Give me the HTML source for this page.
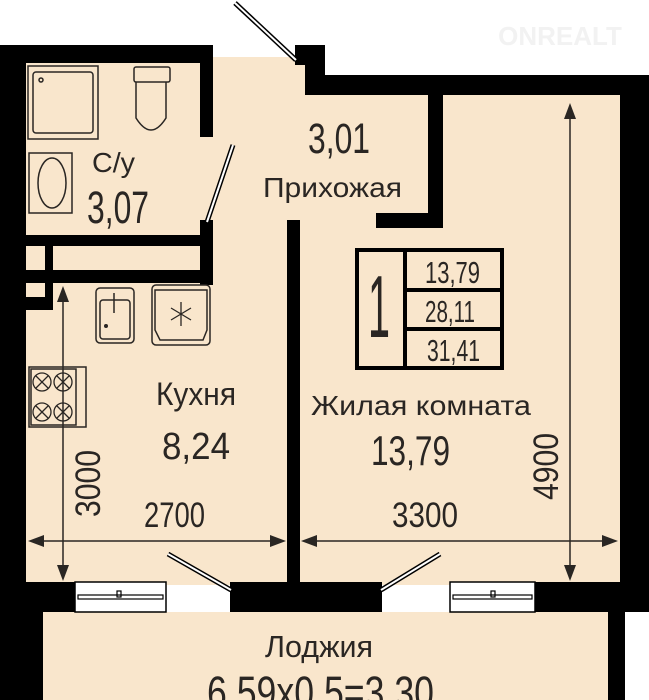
<!DOCTYPE html>
<html><head><meta charset="utf-8"><style>
html,body{margin:0;padding:0;background:#fff;width:649px;height:700px;overflow:hidden}
svg{display:block}
text{font-family:"Liberation Sans",sans-serif;fill:#2a2623}
</style></head><body>
<svg width="649" height="700" viewBox="0 0 649 700" xmlns="http://www.w3.org/2000/svg">
<rect width="649" height="700" fill="#fff"/>
<g fill="#f9e6cc">
<rect x="26" y="63" width="174" height="220"/>
<rect x="26" y="245" width="262" height="340"/>
<rect x="200" y="57" width="105" height="195"/>
<rect x="295" y="95" width="325" height="490"/>
<rect x="213" y="90" width="215" height="162"/>
<rect x="43" y="612" width="566" height="88"/>
</g>
<g fill="#000">
<rect x="0" y="45" width="213" height="18"/>
<rect x="0" y="45" width="26" height="570"/>
<rect x="0" y="612" width="43" height="88"/>
<rect x="200" y="45" width="13" height="92"/>
<rect x="26" y="235" width="187" height="11"/>
<rect x="200" y="220" width="13" height="65"/>
<rect x="26" y="270" width="187" height="13"/>
<rect x="45" y="245" width="8" height="65"/>
<rect x="26" y="297" width="27" height="13"/>
<rect x="295" y="45" width="30" height="20"/>
<rect x="305" y="45" width="20" height="50"/>
<rect x="305" y="75" width="343" height="20"/>
<rect x="620" y="75" width="29" height="537"/>
<rect x="608" y="612" width="17" height="88"/>
<rect x="428" y="95" width="15" height="133"/>
<rect x="376" y="213" width="67" height="15"/>
<rect x="287" y="220" width="13" height="365"/>
<rect x="0" y="582" width="75" height="30"/>
<rect x="230" y="582" width="152" height="30"/>
<rect x="535" y="582" width="114" height="30"/>
</g>
<g stroke="#000" stroke-width="1.5" fill="#fff">
<rect x="75" y="582" width="91" height="30"/>
<rect x="450" y="582" width="85" height="30"/>
</g>
<g stroke="#000" stroke-width="1.2" fill="none">
<rect x="78" y="595" width="85" height="4"/>
<rect x="453" y="595" width="79" height="4"/>
<rect x="117" y="591" width="4" height="6"/>
<rect x="491" y="591" width="4" height="6"/>
</g>
<g stroke="#000" stroke-width="5">
<line x1="235" y1="3" x2="296" y2="60"/>
<line x1="233" y1="145" x2="207" y2="222"/>
<line x1="168" y1="554" x2="231" y2="590"/>
<line x1="440" y1="554" x2="381" y2="590"/>
</g>
<g stroke="#fff" stroke-width="2">
<line x1="235" y1="3" x2="296" y2="60"/>
<line x1="233" y1="145" x2="207" y2="222"/>
<line x1="168" y1="554" x2="231" y2="590"/>
<line x1="440" y1="554" x2="381" y2="590"/>
</g>
<g stroke="#2a2623" stroke-width="1.5" fill="none">
<rect x="28" y="66" width="70" height="73"/>
<rect x="33" y="72" width="60" height="61" rx="3"/>
<circle cx="41" cy="80" r="2"/>
<rect x="134" y="67" width="36" height="15" rx="2"/>
<path d="M136 82 V118 Q151 142 166 118 V82"/>
<rect x="29" y="153" width="43" height="60"/>
<ellipse cx="52" cy="183" rx="14" ry="25"/>
<rect x="96" y="288" width="38" height="55" rx="4"/>
<rect x="100" y="300" width="30" height="39" rx="3"/>
<line x1="114" y1="293" x2="114" y2="313"/>
<rect x="152" y="285" width="58" height="60" rx="4"/>
<path d="M155 290 H207 V330 L203 340 H160 L155 330 Z"/>
<rect x="29" y="367" width="57" height="60"/>
<rect x="31" y="369" width="45" height="56"/>
</g>
<g stroke="#2a2623" stroke-width="1.3" fill="none">
<circle cx="42" cy="382" r="9"/><circle cx="63" cy="382" r="9"/>
<circle cx="42" cy="412" r="9"/><circle cx="63" cy="412" r="9"/>
<path d="M36 376 l12 12 M48 376 l-12 12 M57 376 l12 12 M69 376 l-12 12 M36 406 l12 12 M48 406 l-12 12 M57 406 l12 12 M69 406 l-12 12"/>
<path d="M181 302 v24 M171 308 l20 12 M191 308 l-20 12"/>
</g>
<circle cx="106" cy="326" r="2" fill="#2a2623"/>
<g stroke="#2a2623" stroke-width="1.5">
<line x1="63" y1="298" x2="63" y2="570"/>
<line x1="570" y1="115" x2="570" y2="570"/>
<line x1="38" y1="541" x2="276" y2="541"/>
<line x1="311" y1="541" x2="607" y2="541"/>
</g>
<g fill="#2a2623">
<path d="M63 286 l-6 16 h12 z"/>
<path d="M63 581 l-6 -16 h12 z"/>
<path d="M570 103 l-6 16 h12 z"/>
<path d="M570 581 l-6 -16 h12 z"/>
<path d="M28 541 l16 -6 v12 z"/>
<path d="M286 541 l-16 -6 v12 z"/>
<path d="M301 541 l16 -6 v12 z"/>
<path d="M618 541 l-16 -6 v12 z"/>
</g>
<g stroke="#000" stroke-width="4" fill="none">
<rect x="357" y="250" width="145" height="118"/>
<line x1="405" y1="250" x2="405" y2="368"/>
<line x1="405" y1="290" x2="502" y2="290"/>
<line x1="405" y1="329" x2="502" y2="329"/>
</g>
<g lengthAdjust="spacingAndGlyphs">
<text x="368" y="337" font-size="88" textLength="22" lengthAdjust="spacingAndGlyphs">1</text>
<text x="425" y="283" font-size="31" textLength="55" lengthAdjust="spacingAndGlyphs">13,79</text>
<text x="425" y="322" font-size="31" textLength="50" lengthAdjust="spacingAndGlyphs">28,11</text>
<text x="427" y="361" font-size="31" textLength="53" lengthAdjust="spacingAndGlyphs">31,41</text>
<text x="92" y="172" font-size="28" textLength="43" lengthAdjust="spacingAndGlyphs">С/у</text>
<text x="87" y="223" font-size="45" textLength="62" lengthAdjust="spacingAndGlyphs">3,07</text>
<text x="308" y="153" font-size="43" textLength="62" lengthAdjust="spacingAndGlyphs">3,01</text>
<text x="263" y="197" font-size="28" textLength="139" lengthAdjust="spacingAndGlyphs">Прихожая</text>
<text x="156" y="405" font-size="32" textLength="80" lengthAdjust="spacingAndGlyphs">Кухня</text>
<text x="162" y="459" font-size="38" textLength="68" lengthAdjust="spacingAndGlyphs">8,24</text>
<text x="311" y="415" font-size="28" textLength="220" lengthAdjust="spacingAndGlyphs">Жилая комната</text>
<text x="371" y="465" font-size="42" textLength="79" lengthAdjust="spacingAndGlyphs">13,79</text>
<text x="144" y="527" font-size="35" textLength="61" lengthAdjust="spacingAndGlyphs">2700</text>
<text x="392" y="527" font-size="35" textLength="66" lengthAdjust="spacingAndGlyphs">3300</text>
<text x="265" y="657" font-size="31" textLength="108" lengthAdjust="spacingAndGlyphs">Лоджия</text>
<text x="207" y="708" font-size="45" textLength="227" lengthAdjust="spacingAndGlyphs">6,59x0,5=3,30</text>
<text transform="translate(100,517) rotate(-90)" font-size="35" textLength="67" lengthAdjust="spacingAndGlyphs">3000</text>
<text transform="translate(558,500) rotate(-90)" font-size="35" textLength="67" lengthAdjust="spacingAndGlyphs">4900</text>
</g>
<text x="560" y="45" font-size="26" text-anchor="middle" style="fill:#f2f2f2;font-weight:bold">ONREALT</text>
</svg>
</body></html>
